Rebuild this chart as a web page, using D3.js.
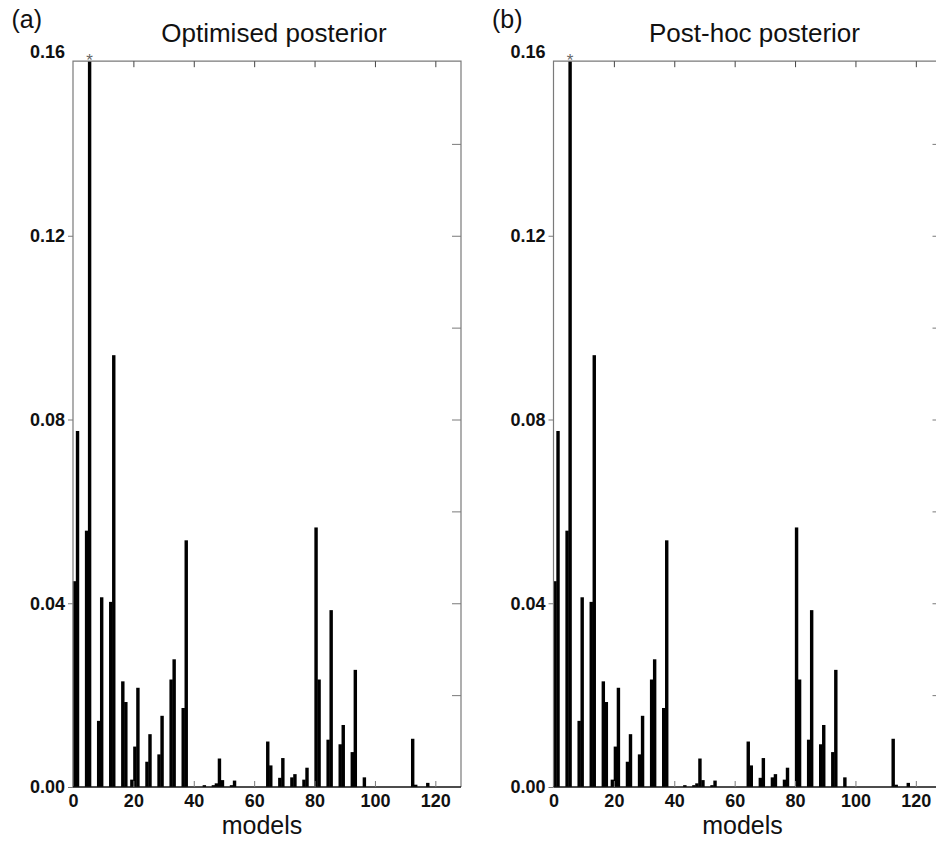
<!DOCTYPE html>
<html>
<head>
<meta charset="utf-8">
<script src="https://cdn.jsdelivr.net/npm/d3@7"></script>
<style>
  body { margin: 0; background: #fff; }
  svg { display: block; font-family: 'Liberation Sans', Arial, sans-serif; }
</style>
</head>
<body>
<div id="chart"></div>
<script>
const svgWidth = 936;
const svgHeight = 841;

// models with a visible bar; every other model is ~0
const models = [
  1, 2, 5, 6, 9, 10, 13, 14, 17, 18, 20, 21, 22, 25, 26, 29, 30, 33, 34, 37, 38,
  44, 47, 48, 49, 50, 53, 54, 65, 66, 69, 70, 73, 74, 77, 78, 81, 82, 85, 86,
  89, 90, 93, 94, 97, 113, 114, 118,
];
const optimisedPosterior = [
  0.0448, 0.0775, 0.0558, 0.158, 0.0144, 0.0413, 0.0403, 0.094, 0.023, 0.0185, 0.0016, 0.0088, 0.0216,
  0.0055, 0.0115, 0.0071, 0.0155, 0.0234, 0.0278, 0.0172, 0.0537,
  0.0004, 0.0004, 0.0008, 0.0062, 0.0015, 0.0004, 0.0014, 0.0099, 0.0047, 0.002, 0.0063, 0.0021, 0.0028,
  0.0016, 0.0042, 0.0565, 0.0234, 0.0103, 0.0385, 0.0093, 0.0135, 0.0076, 0.0255, 0.0021, 0.0105,
  0.0005, 0.0009,
];
const postHocPosterior = [
  0.0448, 0.0775, 0.0558, 0.158, 0.0144, 0.0413, 0.0403, 0.094, 0.023, 0.0185, 0.0016, 0.0088, 0.0216,
  0.0055, 0.0115, 0.0071, 0.0155, 0.0234, 0.0278, 0.0172, 0.0537,
  0.0004, 0.0004, 0.0008, 0.0062, 0.0015, 0.0004, 0.0014, 0.0099, 0.0047, 0.002, 0.0063, 0.0021, 0.0028,
  0.0016, 0.0042, 0.0565, 0.0234, 0.0103, 0.0385, 0.0093, 0.0135, 0.0076, 0.0255, 0.0021, 0.0105,
  0.0005, 0.0009,
];
const xTicks = [0, 20, 40, 60, 80, 100, 120];
const yTicks = [0, 0.04, 0.08, 0.12, 0.16];
const yMinorTicks = [0.02, 0.04, 0.06, 0.08, 0.1, 0.12, 0.14];
const panelLetters = ['(a)', '(b)'];
const panelTitles = ['Optimised posterior', 'Post-hoc posterior'];
const panelValues = [optimisedPosterior, postHocPosterior];
const bestModel = 6;

const PLOT_LEFTS = [73, 553.5];
const PLOT_WIDTH = 388;
const BASELINE = 787;
const AXIS_GREY = '#7a7a7a';

const svg = d3.select('#chart').append('svg').attr('width', svgWidth).attr('height', svgHeight);

const y = d3.scaleLinear().domain([0, 0.16]).range([BASELINE, 52]);

const drawPanel = (i) => {
  const left = PLOT_LEFTS[i];
  const values = panelValues[i];
  const x = d3.scaleLinear().domain([0, 128.5]).range([left, left + PLOT_WIDTH]);
  const top = y(d3.max(values)); // axis is tight on the tallest bar
  const right = left + PLOT_WIDTH;
  const g = svg.append('g');

  // bars
  g.append('g')
    .selectAll('rect')
    .data(models.map((m, j) => ({ model: m, value: values[j] })))
    .join('rect')
    .attr('x', (d) => x(d.model - 1) - 0.2)
    .attr('width', (d) => x(d.model) - x(d.model - 1) + 0.4)
    .attr('y', (d) => y(d.value))
    .attr('height', (d) => y(0) - y(d.value))
    .attr('fill', '#000');

  // frame
  g.append('path')
    .attr('d', `M${left},${BASELINE}V${top}H${right}V${BASELINE}`)
    .attr('fill', 'none')
    .attr('stroke', AXIS_GREY)
    .attr('stroke-width', 1.2);
  g.append('line')
    .attr('x1', left)
    .attr('x2', right)
    .attr('y1', BASELINE)
    .attr('y2', BASELINE)
    .attr('stroke', '#111')
    .attr('stroke-width', 1.6);

  // left axis, ticks outward
  const yAxis = g
    .append('g')
    .attr('transform', `translate(${left},0)`)
    .call(d3.axisLeft(y).tickValues(yTicks).tickFormat(d3.format('.2f')).tickSize(5).tickPadding(3));
  yAxis.select('.domain').remove();
  yAxis.selectAll('.tick line').attr('stroke', AXIS_GREY).filter((d) => y(d) < top).remove();
  yAxis.selectAll('.tick text').attr('fill', '#111').style('font-size', '18px').style('font-weight', 'bold');

  // right axis, ticks inward
  const rAxis = g
    .append('g')
    .attr('transform', `translate(${right},0)`)
    .call(d3.axisLeft(y).tickValues(yMinorTicks).tickFormat('').tickSize(9));
  rAxis.select('.domain').remove();
  rAxis.selectAll('.tick line').attr('stroke', AXIS_GREY);

  // top axis, ticks inward
  const tAxis = g
    .append('g')
    .attr('transform', `translate(0,${top})`)
    .call(d3.axisBottom(x).tickValues(xTicks.slice(1)).tickFormat('').tickSize(6));
  tAxis.select('.domain').remove();
  tAxis.selectAll('.tick line').attr('stroke', '#444');

  // bottom: inward ticks plus labels
  const bTicks = g
    .append('g')
    .attr('transform', `translate(0,${BASELINE})`)
    .call(d3.axisTop(x).tickValues(xTicks.slice(1)).tickFormat('').tickSize(6));
  bTicks.select('.domain').remove();
  bTicks.selectAll('.tick line').attr('stroke', AXIS_GREY);

  const xAxis = g
    .append('g')
    .attr('transform', `translate(0,${BASELINE})`)
    .call(d3.axisBottom(x).tickValues(xTicks).tickSize(0).tickPadding(7));
  xAxis.select('.domain').remove();
  xAxis.selectAll('.tick text').attr('fill', '#111').style('font-size', '18px').style('font-weight', 'bold');

  // best model marker, sits on the top edge above the tallest bar
  const best = values[models.indexOf(bestModel)];
  g.append('text')
    .attr('x', x(bestModel - 0.5))
    .attr('y', y(best) + 5)
    .attr('text-anchor', 'middle')
    .attr('fill', '#666')
    .style('font-size', '17px')
    .text('*');

  // labels
  g.append('text')
    .attr('x', left - 61.5)
    .attr('y', 28)
    .style('font-size', '25px')
    .attr('fill', '#111')
    .text(panelLetters[i]);
  g.append('text')
    .attr('x', left + PLOT_WIDTH / 2 + 7)
    .attr('y', 42)
    .attr('text-anchor', 'middle')
    .style('font-size', '26px')
    .attr('fill', '#111')
    .text(panelTitles[i]);
  g.append('text')
    .attr('x', left + PLOT_WIDTH / 2 - 5)
    .attr('y', 834)
    .attr('text-anchor', 'middle')
    .style('font-size', '25px')
    .attr('fill', '#111')
    .text('models');
};

drawPanel(0);
drawPanel(1);
</script>
</body>
</html>
